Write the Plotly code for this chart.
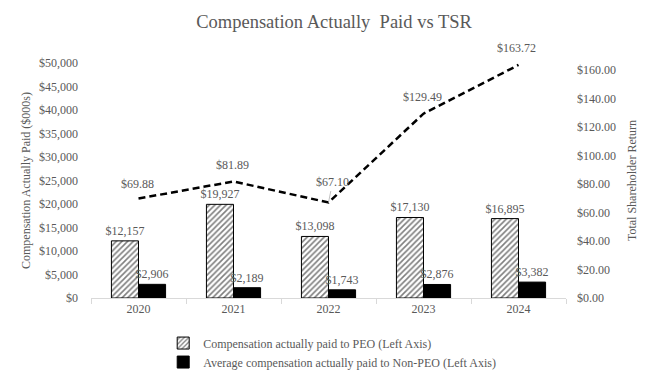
import plotly.graph_objects as go

years = ["2020", "2021", "2022", "2023", "2024"]
peo_cap = [12157, 19927, 13098, 17130, 16895]
non_peo_cap = [2906, 2189, 1743, 2876, 3382]
tsr = [69.88, 81.89, 67.10, 129.49, 163.72]

peo_labels = [f"${v:,.0f}" for v in peo_cap]
non_peo_labels = [f"${v:,.0f}" for v in non_peo_cap]
tsr_labels = [f"${v:.2f}" for v in tsr]

FONT = "Times New Roman, Liberation Serif, serif"
GRAY = "#595959"

fig = go.Figure()
fig.add_trace(go.Bar(
    x=years, y=peo_cap, name="Compensation actually paid to PEO (Left Axis)",
    marker=dict(color="white", line=dict(color="black", width=1),
                pattern=dict(shape="/", fgcolor="black", bgcolor="white", size=4, solidity=0.4)),
    text=peo_labels, textposition="outside", cliponaxis=False, constraintext="none",
    textfont=dict(family=FONT, size=12, color=GRAY),
))
fig.add_trace(go.Bar(
    x=years, y=non_peo_cap, name="Average compensation actually paid to Non-PEO (Left Axis)",
    marker=dict(color="black", line=dict(color="black", width=1)),
    text=non_peo_labels, textposition="outside", cliponaxis=False, constraintext="none",
    textfont=dict(family=FONT, size=12, color=GRAY),
))
fig.add_trace(go.Scatter(
    x=years, y=tsr, yaxis="y2", mode="lines", showlegend=False,
    line=dict(color="black", width=2.5, dash="7px,4px"),
))

# TSR labels: offsets (x px, y px) per point
offsets = [(-1, 15), (-1, 16), (4, 20), (-1, 17), (-2, 17)]
for i, (yr, v, lab, (dx, dy)) in enumerate(zip(years, tsr, tsr_labels, offsets)):
    if yr == "2022":
        fig.add_annotation(x=i, y=v, xref="x", yref="y2", text=lab, showarrow=True,
                           arrowhead=0, arrowwidth=0.7, arrowcolor="#a6a6a6",
                           ax=dx, ay=-dy, standoff=0,
                           font=dict(family=FONT, size=12, color=GRAY))
    else:
        fig.add_annotation(x=i, y=v, xref="x", yref="y2", text=lab, showarrow=False,
                           xshift=dx, yshift=dy,
                           font=dict(family=FONT, size=12, color=GRAY))

fig.update_layout(
    width=652, height=385,
    margin=dict(l=83, r=94, t=55, b=95, autoexpand=False),
    paper_bgcolor="white", plot_bgcolor="white",
    barmode="group", bargap=0.43, bargroupgap=0,
    title=dict(text="Compensation Actually  Paid vs TSR", x=0.5, xanchor="center",
               y=0.964, yref="container", yanchor="middle",
               font=dict(family=FONT, size=18.5, color=GRAY)),
    font=dict(family=FONT, size=12, color=GRAY),
    xaxis=dict(type="category", range=[-0.5, 4.5], showline=True, linecolor="#d9d9d9",
               ticks="outside", tickson="boundaries", ticklen=5, tickcolor="#d9d9d9",
               showgrid=False, automargin=False,
               tickfont=dict(family=FONT, size=12, color=GRAY)),
    yaxis=dict(range=[0, 50000], dtick=5000, tickprefix="$", tickformat=",.0f",
               showgrid=False, zeroline=False, showline=False, automargin=False,
               ticklabelstandoff=12,
               title=dict(text="Compensation Actually Paid ($000s)", standoff=5,
                          font=dict(family=FONT, size=12, color=GRAY)),
               tickfont=dict(family=FONT, size=12, color=GRAY)),
    yaxis2=dict(range=[0, 165.1], dtick=20, tickprefix="$", tickformat=",.2f",
                showtickprefix="all", automargin=False,
                overlaying="y", side="right", showgrid=False, zeroline=False,
                ticklabelstandoff=10,
                title=dict(text="Total Shareholder Return", standoff=12,
                           font=dict(family=FONT, size=12, color=GRAY)),
                tickfont=dict(family=FONT, size=12, color=GRAY)),
    legend=dict(orientation="v", x=0.152, xanchor="left", y=-0.13, yanchor="top",
                font=dict(family=FONT, size=12, color=GRAY), tracegroupgap=0),
)

fig.write_html("out.html")
